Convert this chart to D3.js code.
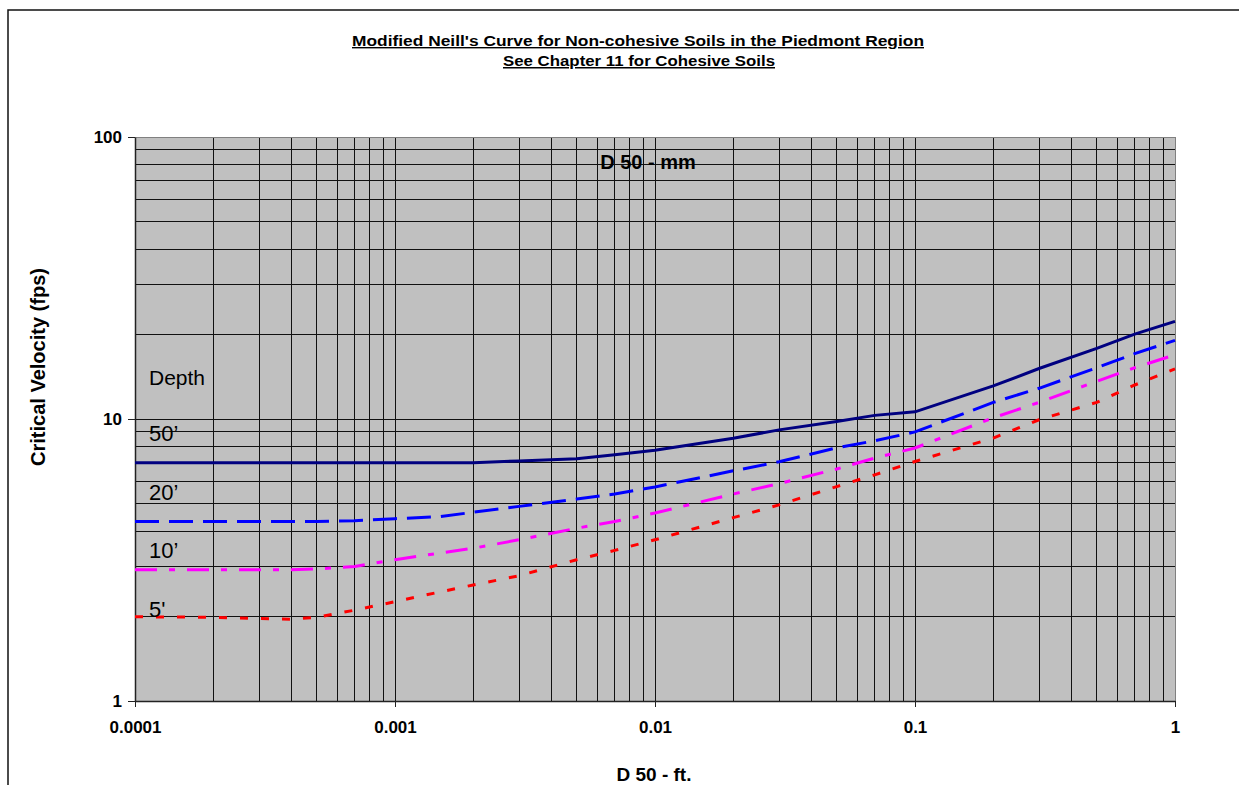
<!DOCTYPE html>
<html>
<head>
<meta charset="utf-8">
<script src="https://cdn.jsdelivr.net/npm/d3@7"></script>
<style>
  body { margin: 0; background: #fff; }
  text { font-family: Arial, "Liberation Sans", sans-serif; }
</style>
</head>
<body>
<svg id="chart" width="1239" height="785"></svg>
<script>
// D50 (ft) sample points shared by every depth curve
var d50 = [0.0001, 0.0002, 0.0003, 0.0004, 0.0005, 0.0007, 0.001, 0.0015, 0.002, 0.003,
           0.005, 0.007, 0.01, 0.02, 0.03, 0.05, 0.07, 0.1, 0.2, 0.3, 0.5, 0.7, 1];

// critical velocity (fps) per depth
var v50 = [7.0, 7.0, 7.0, 7.0, 7.0, 7.0, 7.0, 7.0, 7.0, 7.1,
           7.23, 7.47, 7.75, 8.55, 9.15, 9.8, 10.3, 10.6, 13.1, 15.1, 17.8, 20.0, 22.2];
var v20 = [4.33, 4.33, 4.33, 4.33, 4.33, 4.36, 4.43, 4.51, 4.67, 4.9,
           5.2, 5.42, 5.74, 6.55, 7.05, 7.9, 8.37, 9.0, 11.45, 12.85, 15.2, 17.05, 19.0];
var v10 = [2.92, 2.92, 2.92, 2.92, 2.94, 3.0, 3.17, 3.35, 3.48, 3.73,
           4.1, 4.33, 4.64, 5.42, 5.9, 6.65, 7.27, 7.89, 10.1, 11.45, 13.6, 15.2, 16.9];
var v5 = [1.99, 1.98, 1.96, 1.95, 1.98, 2.1, 2.25, 2.44, 2.58, 2.78,
          3.17, 3.42, 3.73, 4.47, 4.96, 5.76, 6.34, 7.07, 8.56, 9.94, 11.45, 13.2, 15.05];

var depthNames = ["50\u2019", "20\u2019", "10\u2019", "5'"];
var xTicks = [0.0001, 0.001, 0.01, 0.1, 1];
var yTicks = [1, 10, 100];

var series = [
  {vals: v50, color: "#000080", dash: null},
  {vals: v20, color: "#0000ff", dash: "24,10"},
  {vals: v10, color: "#ff00ff", dash: "22,12,6,12"},
  {vals: v5,  color: "#ff0000", dash: "8,13"}
];

var svg = d3.select("#chart");

// outer chart frame
svg.append("rect")
  .attr("x", 8).attr("y", 10)
  .attr("width", 1300).attr("height", 800)
  .attr("fill", "none").attr("stroke", "#111").attr("stroke-width", 1.5);

var x = d3.scaleLog().domain([0.0001, 1]).range([135, 1175]);
var y = d3.scaleLog().domain([1, 100]).range([701, 137]);

// plot background
svg.append("rect")
  .attr("x", x(0.0001)).attr("y", y(100))
  .attr("width", x(1) - x(0.0001)).attr("height", y(1) - y(100))
  .attr("fill", "#c0c0c0");

// grid
var grid = svg.append("g").attr("shape-rendering", "crispEdges");
grid.selectAll(".vg").data(x.ticks()).enter().append("line")
  .attr("x1", d => x(d)).attr("x2", d => x(d))
  .attr("y1", y(100)).attr("y2", y(1))
  .attr("stroke", "#111").attr("stroke-width", 1);
grid.selectAll(".hg").data(y.ticks()).enter().append("line")
  .attr("x1", x(0.0001)).attr("x2", x(1))
  .attr("y1", d => y(d)).attr("y2", d => y(d))
  .attr("stroke", "#111").attr("stroke-width", 1);

// plot border
svg.append("rect")
  .attr("x", x(0.0001)).attr("y", y(100))
  .attr("width", x(1) - x(0.0001)).attr("height", y(1) - y(100))
  .attr("fill", "none").attr("stroke", "#808080").attr("stroke-width", 1)
  .attr("shape-rendering", "crispEdges");

// axes
var xAxis = svg.append("g")
  .attr("transform", "translate(0," + y(1) + ")")
  .call(d3.axisBottom(x).tickValues(xTicks).tickFormat(d => String(d)).tickSize(6).tickSizeOuter(0));
var yAxis = svg.append("g")
  .attr("transform", "translate(" + x(0.0001) + ",0)")
  .call(d3.axisLeft(y).tickValues(yTicks).tickFormat(d => String(d)).tickSize(7).tickSizeOuter(0));

[xAxis, yAxis].forEach(function(a){
  a.select(".domain").attr("stroke", "#222").attr("stroke-width", 1.5);
  a.selectAll(".tick line").attr("stroke", "#222");
  a.selectAll("text")
    .attr("fill", "#000")
    .style("font-family", "Arial, 'Liberation Sans', sans-serif")
    .style("font-size", "17px")
    .style("font-weight", "bold");
});
xAxis.selectAll("text").attr("y", 20);
yAxis.selectAll("text").attr("x", -13);

// curves
var line = d3.line()
  .x((d, i) => x(d50[i]))
  .y(d => y(d));

svg.selectAll(".curve").data(series).enter().append("path")
  .attr("d", d => line(d.vals))
  .attr("fill", "none")
  .attr("stroke", d => d.color)
  .attr("stroke-width", 3)
  .attr("stroke-dasharray", d => d.dash);

// depth labels
svg.append("text")
  .attr("x", 149).attr("y", 385)
  .style("font-size", "21px")
  .text("Depth");
svg.selectAll(".dl").data(depthNames).enter().append("text")
  .attr("x", 149)
  .attr("y", (d, i) => [441, 500, 558, 617][i])
  .style("font-size", "22px")
  .text(d => d);

// titles
svg.append("text")
  .attr("x", 638).attr("y", 46)
  .attr("text-anchor", "middle")
  .style("font-size", "14px").style("font-weight", "bold")
  .style("text-decoration", "underline")
  .attr("textLength", 572).attr("lengthAdjust", "spacingAndGlyphs")
  .text("Modified Neill's Curve for Non-cohesive Soils in the Piedmont Region");
svg.append("text")
  .attr("x", 639).attr("y", 66)
  .attr("text-anchor", "middle")
  .style("font-size", "15px").style("font-weight", "bold")
  .style("text-decoration", "underline")
  .attr("textLength", 272).attr("lengthAdjust", "spacingAndGlyphs")
  .text("See Chapter 11 for Cohesive Soils");

svg.append("text")
  .attr("x", 648).attr("y", 169)
  .attr("text-anchor", "middle")
  .style("font-size", "20px").style("font-weight", "bold")
  .text("D 50 - mm");

svg.append("text")
  .attr("x", 654).attr("y", 781)
  .attr("text-anchor", "middle")
  .style("font-size", "19px").style("font-weight", "bold")
  .text("D 50 - ft.");

svg.append("text")
  .attr("transform", "translate(45," + 367 + ") rotate(-90)")
  .attr("text-anchor", "middle")
  .style("font-size", "20px").style("font-weight", "bold")
  .text("Critical Velocity (fps)");
</script>
</body>
</html>
